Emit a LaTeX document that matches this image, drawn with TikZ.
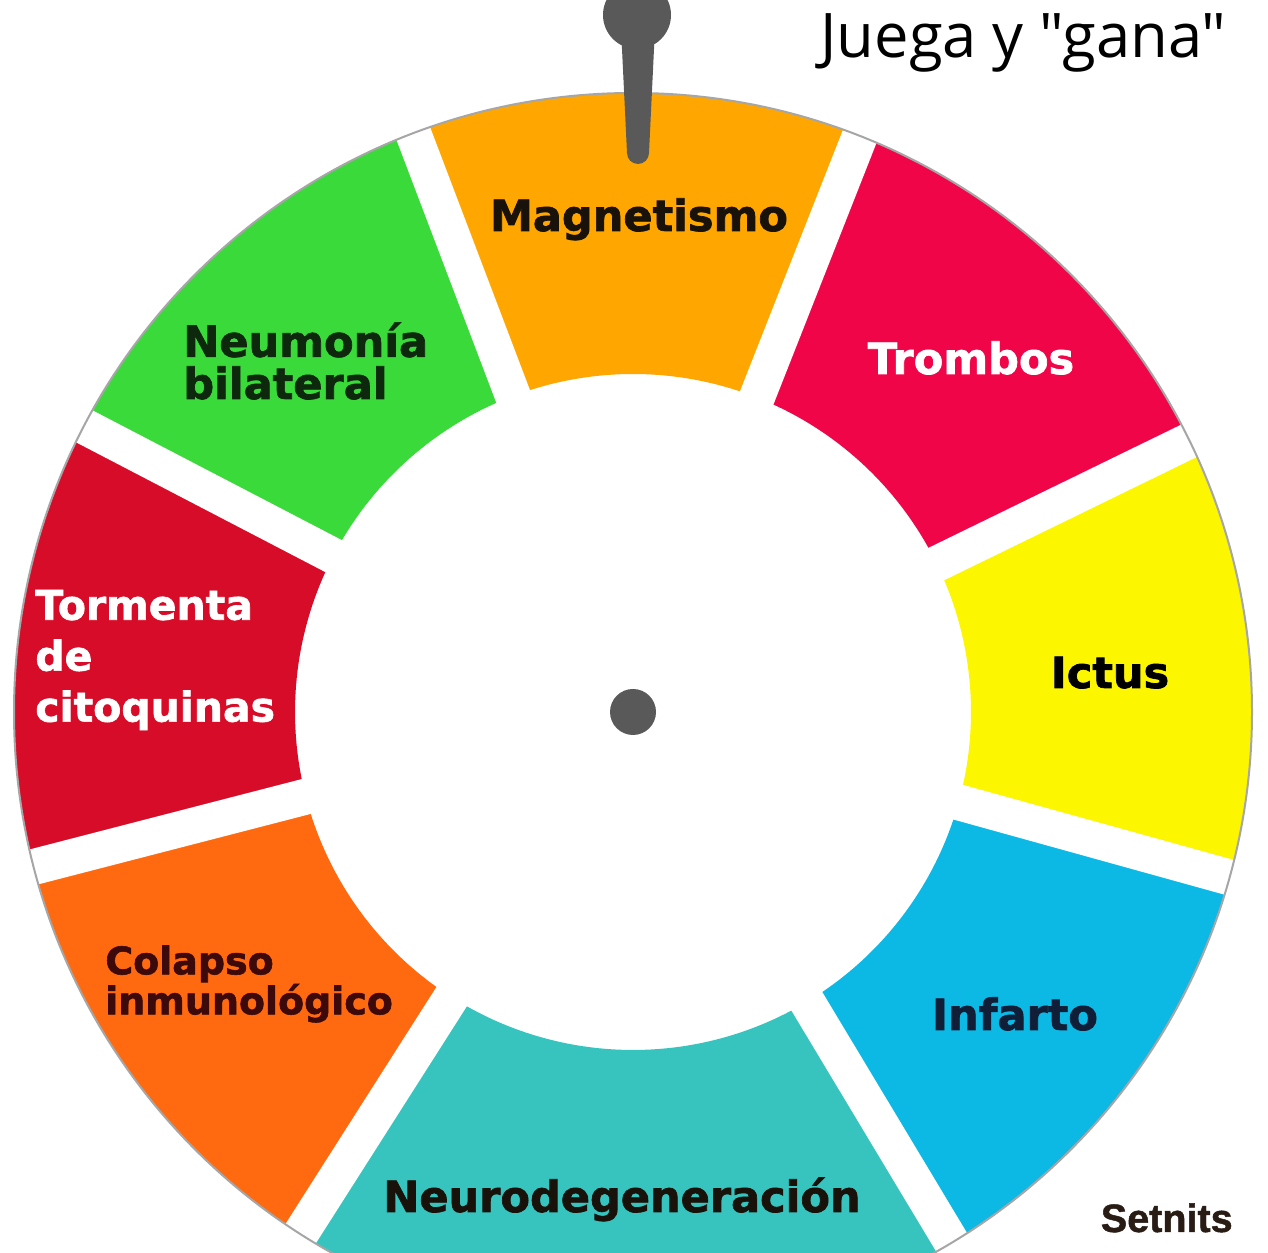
\documentclass[tikz,border=0pt]{standalone}
\usepackage{fontspec}
\setmainfont{DejaVu Sans}[BoldFeatures={FakeBold=1.6}]
\newfontfamily\titlefont{Open Sans}
\newfontfamily\signfont{Liberation Sans}[BoldFeatures={FakeBold=1.2}]

\definecolor{cMag}{RGB}{255,166,0}
\definecolor{cTro}{RGB}{240,6,72}
\definecolor{cIct}{RGB}{252,246,0}
\definecolor{cInf}{RGB}{12,184,228}
\definecolor{cNeu}{RGB}{56,196,190}
\definecolor{cCol}{RGB}{255,106,16}
\definecolor{cTor}{RGB}{214,12,40}
\definecolor{cNmo}{RGB}{58,218,58}
\definecolor{tDark}{RGB}{24,18,10}
\definecolor{tNavy}{RGB}{16,30,56}
\definecolor{tMaroon}{RGB}{60,10,10}
\definecolor{tGreen}{RGB}{14,40,14}
\definecolor{cSign}{RGB}{40,28,20}

\begin{document}
\begin{tikzpicture}[x=0.02cm, y=0.02cm,
    gap/.style={draw=white, line width=0.72cm},
    rim/.style={draw=black!35, line width=0.04cm},
    pin/.style={fill=black!65},
    lbl/.style={font=\fontsize{24.5}{24.5}\selectfont\bfseries, inner sep=0pt},
  ]
\clip (0,0) rectangle (1268,1253);
\fill[white] (0,0) rectangle (1268,1253);

% wheel
\begin{scope}[shift={(633,541)}]
  \coordinate (centro) at (0,0);
  \foreach \a/\b/\c in {26/68.5/cTro, 68.5/110.8/cMag, 110.8/152.5/cNmo,
      152.5/194.5/cTor, 194.5/237.5/cCol, 237.5/301/cNeu,
      301/344.5/cInf, 344.5/386/cIct}
    \fill[\c] (\a:338) arc[start angle=\a, end angle=\b, radius=338]
      -- (\b:619) arc[start angle=\b, end angle=\a, radius=619] -- cycle;
  \foreach \g in {26, 68.5, 110.8, 152.5, 194.5, 237.5, 301, 344.5}
    \draw[gap] (centro) -- (\g:660);
  \draw[rim] (centro) circle[radius=619];
  \fill[pin] (centro) circle[radius=23];
\end{scope}

% pointer
\fill[pin] (637,1238) circle[radius=34];
\fill[pin] (621,1225) -- (627,1100) arc[start angle=180, end angle=360, radius=11]
  -- (655,1225) -- cycle;

% labels
\node[lbl, text=tDark, anchor=base] (magnetismo) at (639,1022) {Magnetismo};
\node[lbl, text=white, anchor=base] (trombos) at (971,879) {Trombos};
\node[lbl, text=black, anchor=base] (ictus) at (1110,565) {Ictus};
\node[lbl, text=tNavy, anchor=base] (infarto) at (1015,223) {Infarto};
\node[lbl, text=tDark, anchor=base] (neuro) at (622,41) {Neurodegeneración};
\node[lbl, text=tMaroon, anchor=west, align=left,
      font=\fontsize{21.6}{21.6}\selectfont\bfseries] (colapso) at (105,269)
  {Colapso\\inmunológico};
\node[lbl, text=white, anchor=west, align=left,
      font=\fontsize{23.3}{29}\selectfont\bfseries] (tormenta) at (35,593)
  {Tormenta\\de\\citoquinas};
\node[lbl, text=tGreen, anchor=west, align=left,
      font=\fontsize{24.5}{24}\selectfont\bfseries] (neumonia) at (183,892)
  {Neumonía\\bilateral};

\node[anchor=base west, inner sep=0pt, font=\titlefont\fontsize{35}{35}\selectfont]
  (titulo) at (820,1195) {Juega y "gana"};
\node[anchor=base east, inner sep=0pt, text=cSign,
      font=\signfont\bfseries\fontsize{22.5}{22.5}\selectfont] (firma) at (1233,21) {Setnits};
\end{tikzpicture}
\end{document}
